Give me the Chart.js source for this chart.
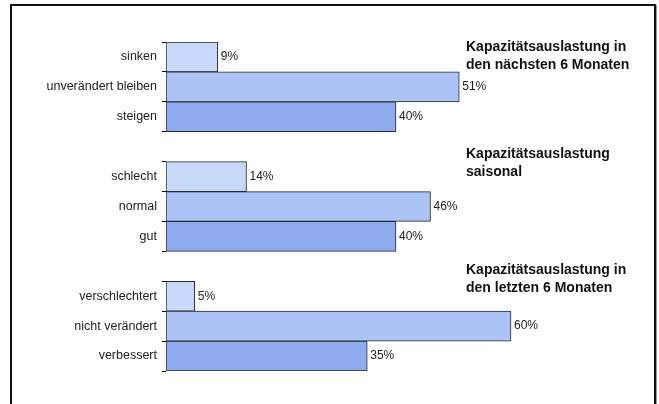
<!DOCTYPE html>
<html>
<head>
<meta charset="utf-8">
<script src="https://cdn.jsdelivr.net/npm/chart.js@4"></script>
<style>
  body { margin: 0; background: #fff; }
  #wrap { position: relative; width: 659px; height: 404px; overflow: hidden; }
  #frame {
    position: absolute; left: 10px; top: 4px; width: 642px; height: 440px;
    border: 2px solid #111; box-shadow: 1px 1px 0 #999;
  }
  #chart { position: absolute; left: 0; top: 0; }
</style>
</head>
<body>
<div id="wrap">
  <div id="frame"></div>
  <canvas id="chart" width="659" height="404"></canvas>
</div>
<script>
// three question blocks, an empty row between each
const categories = [
  "sinken", "unverändert bleiben", "steigen", "",
  "schlecht", "normal", "gut", "",
  "verschlechtert", "nicht verändert", "verbessert",
];
const values = [9, 51, 40, null, 14, 46, 40, null, 5, 60, 35];
const groupStart = [0, 4, 8];
const groupTitles = [
  ["Kapazitätsauslastung in", "den nächsten 6 Monaten"],
  ["Kapazitätsauslastung", "saisonal"],
  ["Kapazitätsauslastung in", "den letzten 6 Monaten"],
];

const shades = ["#c8d8f8", "#adc3f6", "#8eabef"];
const barColors = categories.map((c, i) => shades[i % 4] || "transparent");

const font = "Arial, 'Liberation Sans', sans-serif";

// percent text to the right of every bar
const valueLabels = {
  id: "valueLabels",
  afterDatasetsDraw(chart) {
    const ctx = chart.ctx;
    const meta = chart.getDatasetMeta(0);
    ctx.save();
    ctx.font = "12px " + font;
    ctx.fillStyle = "#222";
    ctx.textBaseline = "middle";
    meta.data.forEach((bar, i) => {
      if (values[i] == null) return;
      ctx.fillText(values[i] + "%", bar.x + 3, bar.y);
    });
    ctx.restore();
  },
};

// bold block headings on the right side
const blockTitles = {
  id: "blockTitles",
  afterDraw(chart, args, opts) {
    const ctx = chart.ctx;
    const y = chart.scales.y;
    ctx.save();
    ctx.font = "bold 14px " + font;
    ctx.fillStyle = "#111";
    ctx.textBaseline = "middle";
    groupTitles.forEach((lines, g) => {
      const top = y.getPixelForValue(groupStart[g]) - y.height / categories.length / 2;
      lines.forEach((line, k) => {
        ctx.fillText(line, opts.x, top + opts.shift[g] + k * 18);
      });
    });
    ctx.restore();
  },
};

new Chart(document.querySelector("#chart").getContext("2d"), {
  type: "bar",
  data: {
    labels: categories,
    datasets: [
      {
        data: values,
        backgroundColor: barColors,
        borderColor: "#2a2a2a",
        borderWidth: 1,
        borderSkipped: false,
        barPercentage: 1,
        categoryPercentage: 1,
      },
    ],
  },
  options: {
    indexAxis: "y",
    responsive: false,
    animation: false,
    layout: { padding: { left: 0, top: 42, bottom: 33, right: 33 } },
    scales: {
      x: { display: false, min: 0, max: 80 },
      y: {
        afterFit: (scale) => { scale.width = 166; },
        border: { display: false },
        grid: {
          offset: true,
          drawOnChartArea: false,
          color: "#000",
          tickLength: 4,
        },
        ticks: {
          padding: 5,
          color: "#222",
          font: { family: font, size: 12.5 },
        },
      },
    },
    plugins: {
      legend: { display: false },
      tooltip: { enabled: false },
      blockTitles: { x: 466, shift: [5, -7, -11] },
    },
  },
  plugins: [valueLabels, blockTitles],
});
</script>
</body>
</html>
